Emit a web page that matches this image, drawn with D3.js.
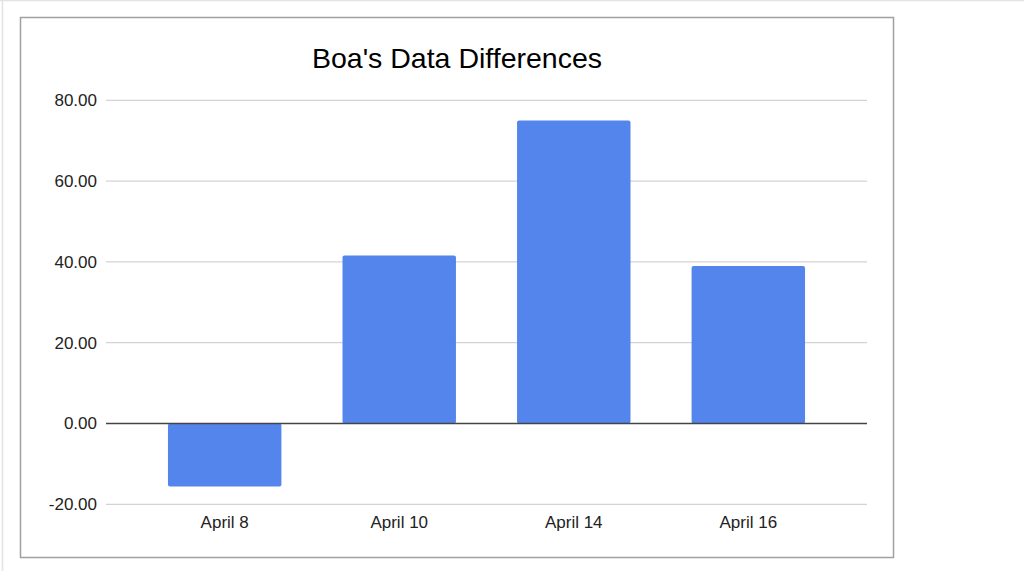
<!DOCTYPE html>
<html>
<head>
<meta charset="utf-8">
<script src="https://cdn.jsdelivr.net/npm/d3@7"></script>
<style>
  html, body { margin: 0; padding: 0; background: #fff; }
  svg { display: block; font-family: 'Liberation Sans', Arial, sans-serif; }
</style>
</head>
<body>
<svg id="chart" width="1024" height="571"></svg>
<script>
const categories = ['April 8', 'April 10', 'April 14', 'April 16']
const differences = [-15.6, 41.6, 75.0, 39.0]
const yTicks = [-20, 0, 20, 40, 60, 80]

const svg = d3.select('#chart')
const width = 1024, height = 571

// page frame lines
svg.append('line').attr('x1', 0).attr('x2', width).attr('y1', 0.5).attr('y2', 0.5)
    .style('stroke', '#e3e3e3').style('stroke-width', 1.5)
svg.append('line').attr('x1', 2.5).attr('x2', 2.5).attr('y1', 0).attr('y2', height)
    .style('stroke', '#e3e3e3').style('stroke-width', 1.5)

// chart box
svg.append('rect')
    .attr('x', 20.5).attr('y', 17.5).attr('width', 873).attr('height', 540)
    .attr('fill', '#fff').style('stroke', '#a0a0a0').style('stroke-width', 1.5)

svg.append('text')
    .attr('x', 457).attr('y', 68)
    .attr('text-anchor', 'middle')
    .style('font-size', '28.5px').style('fill', '#000')
    .text("Boa's Data Differences")

const plot = { left: 106, right: 867, top: 100.3, bottom: 504.3 }

const x = d3.scaleBand()
    .domain(categories)
    .range([plot.left, plot.right])
    .paddingInner(0.35)
    .paddingOuter(0.355)

const y = d3.scaleLinear()
    .domain([-20, 80])
    .range([plot.bottom, plot.top])

// gridlines
svg.append('g')
    .selectAll('line')
    .data(yTicks.filter(t => t !== 0))
    .join('line')
    .attr('x1', plot.left).attr('x2', plot.right)
    .attr('y1', d => y(d)).attr('y2', d => y(d))
    .style('stroke', '#d3d3d3').style('stroke-width', 1.2)

// y labels (plain hyphen for negatives)
svg.append('g')
    .selectAll('text')
    .data(yTicks)
    .join('text')
    .attr('x', 97).attr('y', d => y(d))
    .attr('dy', '0.35em')
    .attr('text-anchor', 'end')
    .style('font-size', '17px').style('fill', '#222')
    .text(d => d3.format('.2f')(d).replace('\u2212', '-'))

// bars
svg.append('g')
    .selectAll('rect')
    .data(differences)
    .join('rect')
    .attr('x', (d, i) => x(categories[i]))
    .attr('width', x.bandwidth())
    .attr('y', d => y(Math.max(0, d)))
    .attr('height', d => Math.abs(y(d) - y(0)))
    .attr('rx', 2)
    .attr('fill', '#5385ec')

// zero line
svg.append('line')
    .attr('x1', plot.left).attr('x2', plot.right)
    .attr('y1', y(0)).attr('y2', y(0))
    .style('stroke', '#444').style('stroke-width', 1.5)

// x labels
svg.append('g')
    .selectAll('text')
    .data(categories)
    .join('text')
    .attr('x', d => x(d) + x.bandwidth() / 2)
    .attr('y', 527.5)
    .attr('text-anchor', 'middle')
    .style('font-size', '17px').style('fill', '#222')
    .text(d => d)
</script>
</body>
</html>
